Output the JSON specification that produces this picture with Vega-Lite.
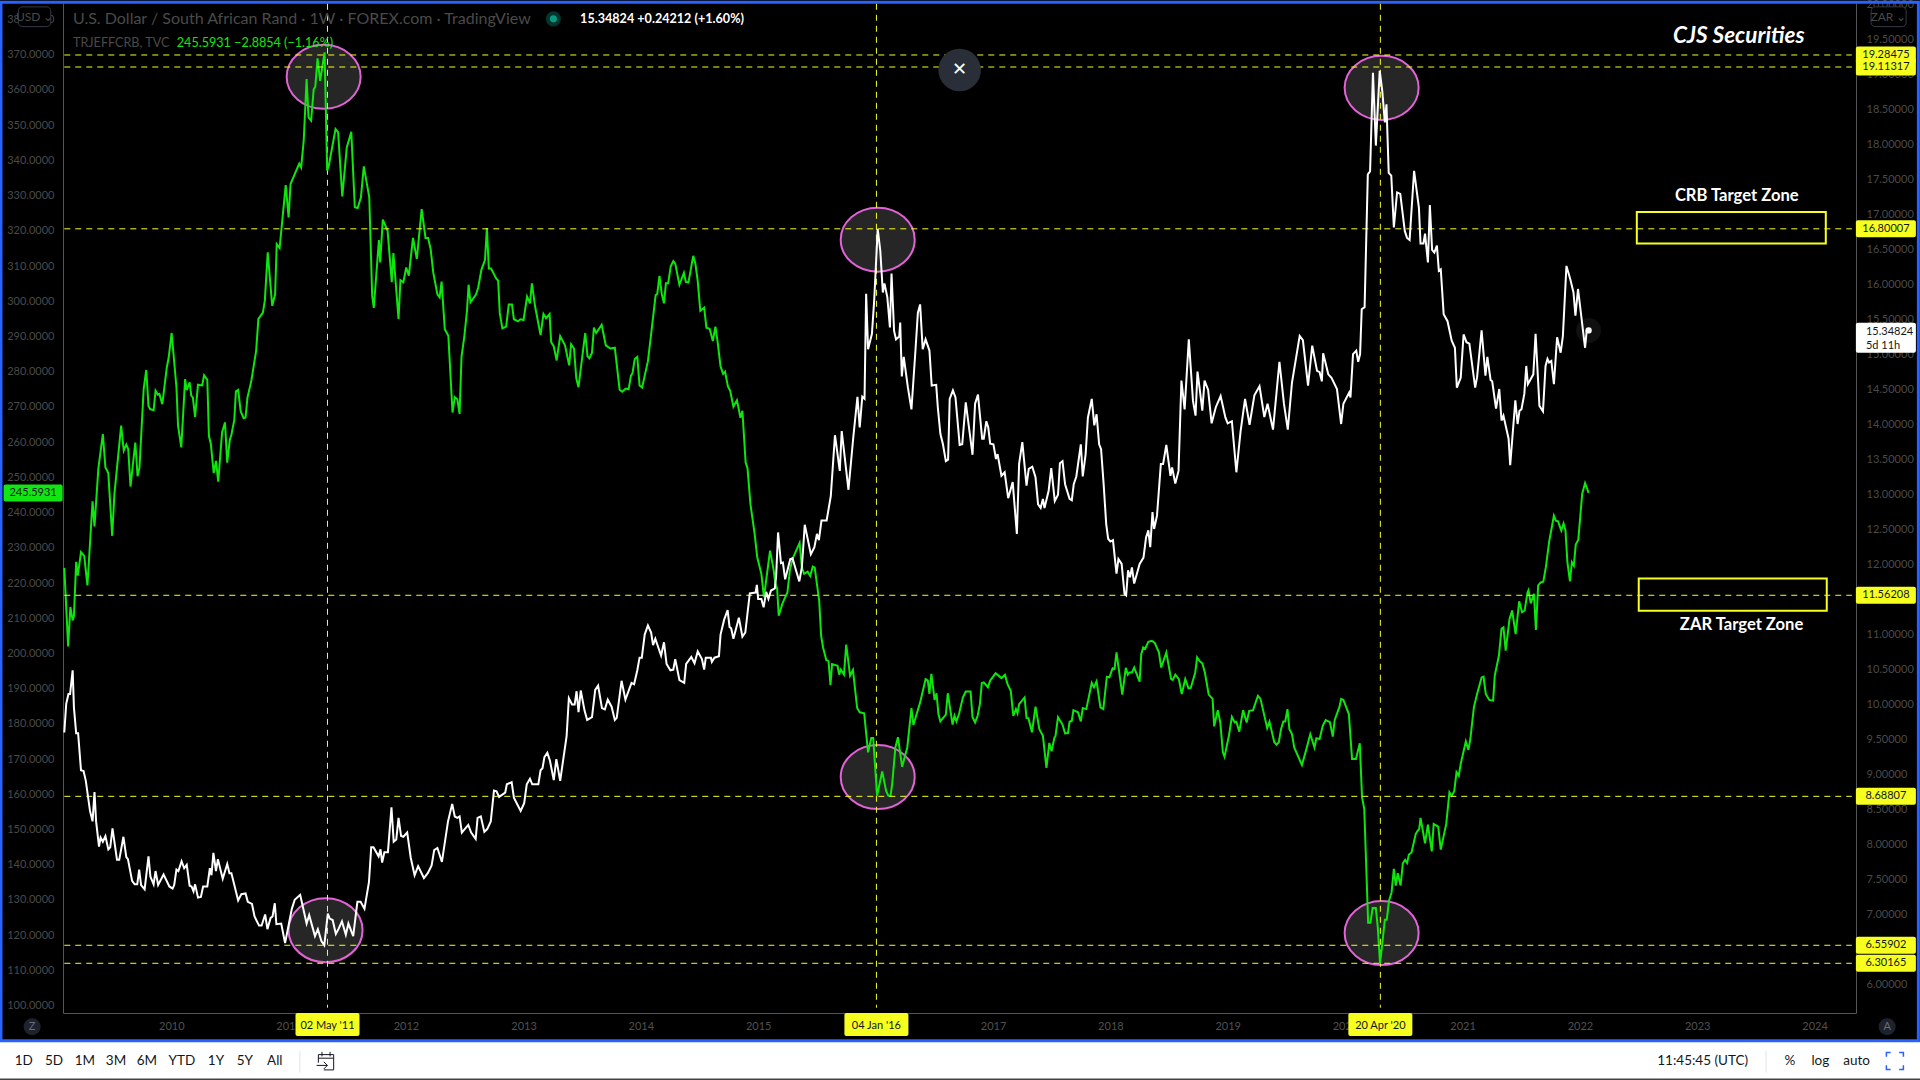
{"$schema":"https://vega.github.io/schema/vega-lite/v6.json","width":1793,"height":1010,"padding":{"left":63,"top":3,"right":64,"bottom":67},"autosize":{"type":"none"},"background":"#000000","config":{"view":{"stroke":null},"text":{"font":"Lato"}},
"datasets":{
"crb":[{"date":"2009-02-02","crb":224.3},{"date":"2009-02-14","crb":202.0},{"date":"2009-02-21","crb":213.2},{"date":"2009-02-28","crb":209.4},{"date":"2009-03-04","crb":210.6},{"date":"2009-03-11","crb":226.0},{"date":"2009-03-16","crb":222.1},{"date":"2009-03-26","crb":228.8},{"date":"2009-04-05","crb":227.7},{"date":"2009-04-15","crb":219.3},{"date":"2009-05-01","crb":243.2},{"date":"2009-05-07","crb":236.1},{"date":"2009-05-19","crb":252.5},{"date":"2009-06-02","crb":262.3},{"date":"2009-06-10","crb":252.8},{"date":"2009-06-19","crb":251.2},{"date":"2009-07-01","crb":233.4},{"date":"2009-07-08","crb":245.3},{"date":"2009-07-29","crb":264.7},{"date":"2009-08-06","crb":257.6},{"date":"2009-08-14","crb":259.3},{"date":"2009-08-20","crb":258.0},{"date":"2009-08-27","crb":247.4},{"date":"2009-09-11","crb":259.9},{"date":"2009-09-18","crb":250.3},{"date":"2009-09-24","crb":252.8},{"date":"2009-10-07","crb":275.1},{"date":"2009-10-15","crb":280.5},{"date":"2009-10-22","crb":270.3},{"date":"2009-10-27","crb":269.4},{"date":"2009-11-07","crb":269.1},{"date":"2009-11-13","crb":274.6},{"date":"2009-11-20","crb":273.5},{"date":"2009-11-25","crb":273.7},{"date":"2009-12-04","crb":270.8},{"date":"2009-12-18","crb":281.2},{"date":"2009-12-24","crb":284.1},{"date":"2010-01-02","crb":291.0},{"date":"2010-01-17","crb":275.6},{"date":"2010-01-22","crb":264.7},{"date":"2010-02-01","crb":258.5},{"date":"2010-02-13","crb":277.9},{"date":"2010-02-18","crb":274.8},{"date":"2010-02-27","crb":277.0},{"date":"2010-03-04","crb":273.2},{"date":"2010-03-09","crb":272.7},{"date":"2010-03-16","crb":267.2},{"date":"2010-03-25","crb":276.3},{"date":"2010-04-07","crb":276.1},{"date":"2010-04-13","crb":279.0},{"date":"2010-04-23","crb":277.7},{"date":"2010-04-28","crb":261.8},{"date":"2010-05-04","crb":259.5},{"date":"2010-05-13","crb":251.2},{"date":"2010-05-20","crb":254.7},{"date":"2010-05-27","crb":248.8},{"date":"2010-06-08","crb":262.8},{"date":"2010-06-17","crb":265.6},{"date":"2010-06-24","crb":254.2},{"date":"2010-07-02","crb":260.6},{"date":"2010-07-07","crb":262.1},{"date":"2010-07-16","crb":266.3},{"date":"2010-07-21","crb":274.4},{"date":"2010-07-28","crb":274.8},{"date":"2010-08-05","crb":268.7},{"date":"2010-08-14","crb":266.8},{"date":"2010-08-20","crb":267.0},{"date":"2010-08-26","crb":272.7},{"date":"2010-09-07","crb":277.4},{"date":"2010-09-22","crb":286.0},{"date":"2010-09-29","crb":295.0},{"date":"2010-10-13","crb":296.8},{"date":"2010-10-19","crb":300.2},{"date":"2010-10-28","crb":313.9},{"date":"2010-11-11","crb":298.7},{"date":"2010-11-20","crb":302.0},{"date":"2010-11-25","crb":316.2},{"date":"2010-12-04","crb":315.1},{"date":"2010-12-23","crb":333.0},{"date":"2011-01-01","crb":323.8},{"date":"2011-01-07","crb":333.3},{"date":"2011-01-20","crb":336.1},{"date":"2011-02-03","crb":339.1},{"date":"2011-02-09","crb":338.0},{"date":"2011-02-17","crb":345.6},{"date":"2011-02-26","crb":363.1},{"date":"2011-03-04","crb":352.2},{"date":"2011-03-12","crb":351.3},{"date":"2011-03-20","crb":360.2},{"date":"2011-03-25","crb":360.9},{"date":"2011-04-01","crb":369.0},{"date":"2011-04-09","crb":362.6},{"date":"2011-04-23","crb":370.7},{"date":"2011-05-01","crb":337.1},{"date":"2011-05-06","crb":338.5},{"date":"2011-05-27","crb":348.9},{"date":"2011-06-04","crb":348.0},{"date":"2011-06-17","crb":329.8},{"date":"2011-07-01","crb":343.7},{"date":"2011-07-15","crb":348.1},{"date":"2011-07-26","crb":326.7},{"date":"2011-08-04","crb":326.5},{"date":"2011-08-14","crb":329.5},{"date":"2011-08-23","crb":338.3},{"date":"2011-09-09","crb":329.5},{"date":"2011-09-18","crb":301.6},{"date":"2011-09-23","crb":298.1},{"date":"2011-10-09","crb":317.4},{"date":"2011-10-13","crb":311.0},{"date":"2011-10-21","crb":323.2},{"date":"2011-11-05","crb":320.0},{"date":"2011-11-18","crb":305.4},{"date":"2011-11-23","crb":313.7},{"date":"2011-12-09","crb":295.0},{"date":"2011-12-15","crb":306.0},{"date":"2011-12-24","crb":305.4},{"date":"2012-01-02","crb":309.6},{"date":"2012-01-10","crb":307.3},{"date":"2012-01-23","crb":318.0},{"date":"2012-02-04","crb":312.0},{"date":"2012-02-19","crb":326.2},{"date":"2012-03-02","crb":318.0},{"date":"2012-03-10","crb":318.0},{"date":"2012-03-18","crb":314.8},{"date":"2012-03-26","crb":308.2},{"date":"2012-04-08","crb":302.0},{"date":"2012-04-15","crb":301.1},{"date":"2012-04-21","crb":305.6},{"date":"2012-05-01","crb":292.1},{"date":"2012-05-12","crb":290.2},{"date":"2012-05-25","crb":268.4},{"date":"2012-06-01","crb":272.8},{"date":"2012-06-09","crb":272.2},{"date":"2012-06-16","crb":268.0},{"date":"2012-06-22","crb":284.2},{"date":"2012-07-01","crb":290.2},{"date":"2012-07-09","crb":297.3},{"date":"2012-07-14","crb":304.7},{"date":"2012-07-20","crb":299.7},{"date":"2012-08-06","crb":301.9},{"date":"2012-08-13","crb":303.9},{"date":"2012-08-23","crb":309.0},{"date":"2012-09-03","crb":311.7},{"date":"2012-09-09","crb":320.8},{"date":"2012-09-15","crb":309.3},{"date":"2012-09-22","crb":309.3},{"date":"2012-10-09","crb":306.3},{"date":"2012-10-14","crb":305.9},{"date":"2012-10-19","crb":296.7},{"date":"2012-10-27","crb":292.3},{"date":"2012-11-08","crb":292.8},{"date":"2012-11-16","crb":299.1},{"date":"2012-11-26","crb":299.1},{"date":"2012-12-02","crb":294.9},{"date":"2012-12-15","crb":294.3},{"date":"2012-12-22","crb":294.9},{"date":"2013-01-01","crb":294.7},{"date":"2013-01-12","crb":301.3},{"date":"2013-01-21","crb":299.4},{"date":"2013-01-27","crb":305.1},{"date":"2013-02-06","crb":298.5},{"date":"2013-02-23","crb":290.4},{"date":"2013-03-04","crb":296.4},{"date":"2013-03-12","crb":295.2},{"date":"2013-03-23","crb":296.4},{"date":"2013-03-28","crb":288.4},{"date":"2013-04-05","crb":287.2},{"date":"2013-04-14","crb":283.2},{"date":"2013-04-25","crb":290.1},{"date":"2013-05-10","crb":287.5},{"date":"2013-05-23","crb":281.8},{"date":"2013-05-29","crb":287.8},{"date":"2013-06-07","crb":286.6},{"date":"2013-06-14","crb":278.2},{"date":"2013-06-21","crb":275.6},{"date":"2013-07-12","crb":291.0},{"date":"2013-07-19","crb":284.4},{"date":"2013-07-25","crb":283.8},{"date":"2013-08-02","crb":285.4},{"date":"2013-08-08","crb":292.5},{"date":"2013-08-15","crb":291.0},{"date":"2013-09-01","crb":293.3},{"date":"2013-09-14","crb":287.5},{"date":"2013-09-28","crb":286.6},{"date":"2013-10-12","crb":286.8},{"date":"2013-10-27","crb":274.9},{"date":"2013-11-04","crb":274.3},{"date":"2013-11-15","crb":275.2},{"date":"2013-11-24","crb":275.0},{"date":"2013-12-01","crb":278.8},{"date":"2013-12-06","crb":279.6},{"date":"2013-12-13","crb":283.6},{"date":"2013-12-21","crb":284.2},{"date":"2013-12-28","crb":276.1},{"date":"2014-01-05","crb":275.5},{"date":"2014-01-23","crb":283.0},{"date":"2014-02-02","crb":290.7},{"date":"2014-02-16","crb":301.7},{"date":"2014-02-21","crb":302.1},{"date":"2014-02-28","crb":307.2},{"date":"2014-03-07","crb":302.1},{"date":"2014-03-14","crb":299.4},{"date":"2014-03-20","crb":305.1},{"date":"2014-03-27","crb":305.1},{"date":"2014-04-04","crb":309.9},{"date":"2014-04-12","crb":311.4},{"date":"2014-04-18","crb":310.7},{"date":"2014-05-01","crb":304.7},{"date":"2014-05-15","crb":308.1},{"date":"2014-05-21","crb":305.5},{"date":"2014-05-29","crb":305.3},{"date":"2014-06-13","crb":312.9},{"date":"2014-06-20","crb":310.5},{"date":"2014-06-27","crb":305.7},{"date":"2014-07-05","crb":297.3},{"date":"2014-07-17","crb":298.2},{"date":"2014-07-24","crb":292.5},{"date":"2014-08-03","crb":292.2},{"date":"2014-08-13","crb":288.7},{"date":"2014-08-21","crb":292.8},{"date":"2014-08-28","crb":288.4},{"date":"2014-09-06","crb":281.5},{"date":"2014-09-14","crb":279.4},{"date":"2014-09-20","crb":280.0},{"date":"2014-09-29","crb":275.8},{"date":"2014-10-06","crb":274.6},{"date":"2014-10-16","crb":270.1},{"date":"2014-10-27","crb":271.9},{"date":"2014-11-07","crb":266.9},{"date":"2014-11-13","crb":268.9},{"date":"2014-11-23","crb":254.3},{"date":"2014-11-29","crb":252.5},{"date":"2014-12-08","crb":242.4},{"date":"2014-12-21","crb":234.0},{"date":"2014-12-29","crb":227.4},{"date":"2015-01-11","crb":222.6},{"date":"2015-01-19","crb":216.0},{"date":"2015-01-26","crb":220.8},{"date":"2015-02-07","crb":229.2},{"date":"2015-02-18","crb":223.8},{"date":"2015-02-24","crb":219.6},{"date":"2015-03-01","crb":218.5},{"date":"2015-03-06","crb":210.7},{"date":"2015-03-18","crb":214.3},{"date":"2015-04-02","crb":217.3},{"date":"2015-04-10","crb":223.8},{"date":"2015-04-19","crb":227.1},{"date":"2015-05-10","crb":231.4},{"date":"2015-05-17","crb":224.4},{"date":"2015-05-24","crb":222.6},{"date":"2015-06-04","crb":223.2},{"date":"2015-06-12","crb":222.0},{"date":"2015-06-20","crb":224.7},{"date":"2015-06-26","crb":224.4},{"date":"2015-07-10","crb":214.9},{"date":"2015-07-16","crb":205.0},{"date":"2015-07-22","crb":201.7},{"date":"2015-08-01","crb":198.1},{"date":"2015-08-08","crb":197.8},{"date":"2015-08-14","crb":191.0},{"date":"2015-08-19","crb":197.0},{"date":"2015-09-05","crb":196.5},{"date":"2015-09-10","crb":194.0},{"date":"2015-09-15","crb":195.4},{"date":"2015-09-25","crb":194.0},{"date":"2015-10-02","crb":202.5},{"date":"2015-10-14","crb":193.7},{"date":"2015-10-23","crb":195.3},{"date":"2015-11-05","crb":184.5},{"date":"2015-11-13","crb":183.3},{"date":"2015-11-27","crb":183.0},{"date":"2015-12-09","crb":171.9},{"date":"2015-12-19","crb":176.0},{"date":"2015-12-25","crb":176.0},{"date":"2016-01-06","crb":159.6},{"date":"2016-01-22","crb":166.5},{"date":"2016-02-03","crb":161.0},{"date":"2016-02-10","crb":159.6},{"date":"2016-02-17","crb":159.6},{"date":"2016-02-22","crb":162.9},{"date":"2016-03-03","crb":173.3},{"date":"2016-03-11","crb":176.2},{"date":"2016-03-24","crb":167.8},{"date":"2016-04-09","crb":173.3},{"date":"2016-04-22","crb":184.5},{"date":"2016-04-28","crb":179.7},{"date":"2016-05-19","crb":186.1},{"date":"2016-06-05","crb":192.7},{"date":"2016-06-12","crb":192.3},{"date":"2016-06-17","crb":188.5},{"date":"2016-06-23","crb":194.2},{"date":"2016-07-03","crb":186.8},{"date":"2016-07-09","crb":188.7},{"date":"2016-07-15","crb":182.8},{"date":"2016-07-21","crb":180.7},{"date":"2016-08-07","crb":182.6},{"date":"2016-08-13","crb":188.7},{"date":"2016-08-28","crb":179.8},{"date":"2016-09-03","crb":182.3},{"date":"2016-09-09","crb":180.7},{"date":"2016-09-17","crb":182.8},{"date":"2016-09-29","crb":187.5},{"date":"2016-10-08","crb":189.2},{"date":"2016-10-23","crb":189.2},{"date":"2016-10-29","crb":181.9},{"date":"2016-11-06","crb":180.4},{"date":"2016-11-14","crb":182.3},{"date":"2016-11-21","crb":185.6},{"date":"2016-11-27","crb":191.6},{"date":"2016-12-03","crb":191.8},{"date":"2016-12-16","crb":190.4},{"date":"2016-12-23","crb":192.3},{"date":"2017-01-09","crb":194.4},{"date":"2017-01-27","crb":193.0},{"date":"2017-02-07","crb":193.9},{"date":"2017-02-15","crb":191.3},{"date":"2017-02-25","crb":189.4},{"date":"2017-03-05","crb":182.3},{"date":"2017-03-13","crb":184.2},{"date":"2017-03-18","crb":183.0},{"date":"2017-03-23","crb":185.6},{"date":"2017-04-09","crb":187.5},{"date":"2017-04-15","crb":181.7},{"date":"2017-04-21","crb":181.6},{"date":"2017-05-02","crb":177.6},{"date":"2017-05-13","crb":184.9},{"date":"2017-05-25","crb":178.5},{"date":"2017-06-05","crb":176.6},{"date":"2017-06-16","crb":167.5},{"date":"2017-06-25","crb":174.6},{"date":"2017-07-02","crb":172.2},{"date":"2017-07-11","crb":176.2},{"date":"2017-07-14","crb":176.4},{"date":"2017-07-22","crb":181.9},{"date":"2017-08-05","crb":179.8},{"date":"2017-08-13","crb":177.3},{"date":"2017-08-22","crb":177.4},{"date":"2017-08-27","crb":180.6},{"date":"2017-09-03","crb":180.9},{"date":"2017-09-08","crb":183.9},{"date":"2017-09-22","crb":183.3},{"date":"2017-10-01","crb":180.7},{"date":"2017-10-07","crb":184.5},{"date":"2017-10-18","crb":184.2},{"date":"2017-11-04","crb":191.6},{"date":"2017-11-11","crb":190.4},{"date":"2017-11-19","crb":192.1},{"date":"2017-12-01","crb":184.7},{"date":"2017-12-10","crb":184.2},{"date":"2017-12-21","crb":193.4},{"date":"2017-12-29","crb":193.2},{"date":"2018-01-08","crb":195.8},{"date":"2018-01-14","crb":195.6},{"date":"2018-01-20","crb":200.3},{"date":"2018-02-07","crb":188.3},{"date":"2018-02-18","crb":195.9},{"date":"2018-02-24","crb":194.0},{"date":"2018-03-01","crb":194.6},{"date":"2018-03-09","crb":194.6},{"date":"2018-03-16","crb":196.0},{"date":"2018-04-02","crb":192.0},{"date":"2018-04-07","crb":199.8},{"date":"2018-04-13","crb":201.7},{"date":"2018-04-19","crb":201.3},{"date":"2018-04-29","crb":203.3},{"date":"2018-05-10","crb":203.6},{"date":"2018-05-19","crb":203.0},{"date":"2018-06-01","crb":200.3},{"date":"2018-06-08","crb":196.0},{"date":"2018-06-24","crb":200.3},{"date":"2018-07-09","crb":192.7},{"date":"2018-07-14","crb":192.5},{"date":"2018-07-22","crb":194.0},{"date":"2018-08-02","crb":192.7},{"date":"2018-08-11","crb":188.5},{"date":"2018-08-22","crb":192.7},{"date":"2018-09-01","crb":190.1},{"date":"2018-09-08","crb":190.2},{"date":"2018-09-22","crb":194.6},{"date":"2018-09-28","crb":198.9},{"date":"2018-10-06","crb":197.8},{"date":"2018-10-14","crb":197.2},{"date":"2018-10-22","crb":194.6},{"date":"2018-11-03","crb":188.3},{"date":"2018-11-15","crb":187.1},{"date":"2018-11-20","crb":179.3},{"date":"2018-12-01","crb":183.9},{"date":"2018-12-09","crb":180.4},{"date":"2018-12-17","crb":171.9},{"date":"2018-12-22","crb":170.7},{"date":"2019-01-05","crb":176.7},{"date":"2019-01-14","crb":182.0},{"date":"2019-01-23","crb":180.4},{"date":"2019-01-28","crb":180.6},{"date":"2019-02-06","crb":177.8},{"date":"2019-02-18","crb":183.9},{"date":"2019-03-01","crb":180.4},{"date":"2019-03-09","crb":183.7},{"date":"2019-03-21","crb":183.9},{"date":"2019-04-05","crb":188.0},{"date":"2019-04-13","crb":187.1},{"date":"2019-05-04","crb":178.8},{"date":"2019-05-11","crb":180.6},{"date":"2019-05-26","crb":174.8},{"date":"2019-06-02","crb":174.1},{"date":"2019-06-09","crb":174.8},{"date":"2019-06-16","crb":178.5},{"date":"2019-06-23","crb":180.7},{"date":"2019-06-29","crb":180.7},{"date":"2019-07-06","crb":184.2},{"date":"2019-07-12","crb":178.5},{"date":"2019-07-20","crb":177.1},{"date":"2019-07-27","crb":173.3},{"date":"2019-08-20","crb":168.3},{"date":"2019-09-03","crb":172.9},{"date":"2019-09-15","crb":177.1},{"date":"2019-09-28","crb":173.3},{"date":"2019-10-04","crb":175.9},{"date":"2019-10-14","crb":175.7},{"date":"2019-10-24","crb":179.5},{"date":"2019-11-02","crb":181.1},{"date":"2019-11-15","crb":180.5},{"date":"2019-11-24","crb":176.4},{"date":"2019-11-30","crb":181.1},{"date":"2019-12-15","crb":184.9},{"date":"2019-12-20","crb":187.1},{"date":"2019-12-27","crb":186.8},{"date":"2020-01-13","crb":182.8},{"date":"2020-01-23","crb":170.0},{"date":"2020-02-04","crb":170.0},{"date":"2020-02-16","crb":174.5},{"date":"2020-02-23","crb":159.2},{"date":"2020-03-01","crb":155.8},{"date":"2020-03-13","crb":123.5},{"date":"2020-03-20","crb":123.5},{"date":"2020-03-27","crb":127.7},{"date":"2020-04-06","crb":127.7},{"date":"2020-04-12","crb":122.2},{"date":"2020-04-19","crb":112.0},{"date":"2020-04-26","crb":117.5},{"date":"2020-05-04","crb":124.4},{"date":"2020-05-10","crb":124.4},{"date":"2020-05-17","crb":129.8},{"date":"2020-05-25","crb":132.2},{"date":"2020-06-01","crb":138.8},{"date":"2020-06-07","crb":134.1},{"date":"2020-06-13","crb":137.6},{"date":"2020-06-22","crb":134.1},{"date":"2020-06-29","crb":140.4},{"date":"2020-07-06","crb":141.4},{"date":"2020-07-12","crb":140.5},{"date":"2020-07-18","crb":142.9},{"date":"2020-07-26","crb":143.5},{"date":"2020-08-08","crb":148.7},{"date":"2020-08-13","crb":149.5},{"date":"2020-08-19","crb":150.2},{"date":"2020-08-23","crb":153.3},{"date":"2020-09-06","crb":146.1},{"date":"2020-09-15","crb":151.4},{"date":"2020-09-27","crb":143.8},{"date":"2020-10-03","crb":151.6},{"date":"2020-10-17","crb":150.8},{"date":"2020-10-25","crb":144.3},{"date":"2020-11-11","crb":151.6},{"date":"2020-11-21","crb":160.6},{"date":"2020-11-28","crb":159.6},{"date":"2020-12-06","crb":160.9},{"date":"2020-12-13","crb":166.3},{"date":"2020-12-20","crb":165.3},{"date":"2020-12-26","crb":168.6},{"date":"2021-01-11","crb":175.0},{"date":"2021-01-19","crb":172.6},{"date":"2021-01-25","crb":175.7},{"date":"2021-02-05","crb":184.7},{"date":"2021-02-15","crb":188.5},{"date":"2021-03-01","crb":193.2},{"date":"2021-03-07","crb":193.4},{"date":"2021-03-14","crb":188.5},{"date":"2021-03-25","crb":186.8},{"date":"2021-04-06","crb":186.6},{"date":"2021-04-11","crb":193.7},{"date":"2021-04-24","crb":199.4},{"date":"2021-05-02","crb":207.0},{"date":"2021-05-08","crb":207.4},{"date":"2021-05-15","crb":200.8},{"date":"2021-05-27","crb":209.8},{"date":"2021-06-04","crb":212.2},{"date":"2021-06-15","crb":205.5},{"date":"2021-06-26","crb":214.8},{"date":"2021-07-05","crb":211.7},{"date":"2021-07-13","crb":212.2},{"date":"2021-07-22","crb":217.4},{"date":"2021-07-25","crb":218.0},{"date":"2021-08-01","crb":214.2},{"date":"2021-08-11","crb":216.9},{"date":"2021-08-17","crb":206.7},{"date":"2021-08-24","crb":219.3},{"date":"2021-09-01","crb":220.2},{"date":"2021-09-09","crb":220.4},{"date":"2021-09-17","crb":224.5},{"date":"2021-09-27","crb":231.6},{"date":"2021-10-12","crb":239.1},{"date":"2021-10-18","crb":237.7},{"date":"2021-10-25","crb":237.5},{"date":"2021-11-04","crb":234.9},{"date":"2021-11-11","crb":236.9},{"date":"2021-11-17","crb":234.9},{"date":"2021-11-23","crb":225.9},{"date":"2021-12-01","crb":220.5},{"date":"2021-12-07","crb":225.9},{"date":"2021-12-13","crb":224.9},{"date":"2021-12-19","crb":230.9},{"date":"2021-12-27","crb":232.3},{"date":"2022-01-08","crb":245.3},{"date":"2022-01-17","crb":248.4},{"date":"2022-01-28","crb":245.5931}],
"zar":[{"date":"2009-02-02","zar":9.6},{"date":"2009-02-08","zar":10.01},{"date":"2009-02-15","zar":10.15},{"date":"2009-02-20","zar":10.15},{"date":"2009-02-28","zar":10.49},{"date":"2009-03-04","zar":9.96},{"date":"2009-03-11","zar":9.59},{"date":"2009-03-17","zar":9.59},{"date":"2009-03-26","zar":9.06},{"date":"2009-04-03","zar":9.05},{"date":"2009-04-10","zar":8.91},{"date":"2009-04-23","zar":8.48},{"date":"2009-05-01","zar":8.33},{"date":"2009-05-07","zar":8.75},{"date":"2009-05-12","zar":8.33},{"date":"2009-05-21","zar":7.97},{"date":"2009-05-26","zar":8.1},{"date":"2009-06-02","zar":8.04},{"date":"2009-06-10","zar":8.12},{"date":"2009-06-19","zar":7.93},{"date":"2009-06-25","zar":7.96},{"date":"2009-07-02","zar":8.23},{"date":"2009-07-16","zar":7.78},{"date":"2009-07-23","zar":7.78},{"date":"2009-08-05","zar":8.11},{"date":"2009-08-14","zar":7.82},{"date":"2009-08-19","zar":7.79},{"date":"2009-09-01","zar":7.48},{"date":"2009-09-09","zar":7.43},{"date":"2009-09-17","zar":7.43},{"date":"2009-09-23","zar":7.64},{"date":"2009-09-29","zar":7.42},{"date":"2009-10-10","zar":7.36},{"date":"2009-10-22","zar":7.83},{"date":"2009-10-28","zar":7.54},{"date":"2009-11-07","zar":7.43},{"date":"2009-11-13","zar":7.62},{"date":"2009-11-21","zar":7.42},{"date":"2009-12-08","zar":7.57},{"date":"2009-12-26","zar":7.4},{"date":"2010-01-05","zar":7.37},{"date":"2010-01-10","zar":7.42},{"date":"2010-01-17","zar":7.64},{"date":"2010-01-23","zar":7.62},{"date":"2010-02-02","zar":7.76},{"date":"2010-02-10","zar":7.66},{"date":"2010-02-18","zar":7.71},{"date":"2010-02-27","zar":7.41},{"date":"2010-03-05","zar":7.4},{"date":"2010-03-11","zar":7.33},{"date":"2010-03-16","zar":7.43},{"date":"2010-03-25","zar":7.24},{"date":"2010-04-03","zar":7.25},{"date":"2010-04-10","zar":7.4},{"date":"2010-04-23","zar":7.4},{"date":"2010-05-01","zar":7.66},{"date":"2010-05-06","zar":7.56},{"date":"2010-05-12","zar":7.88},{"date":"2010-05-20","zar":7.62},{"date":"2010-05-26","zar":7.79},{"date":"2010-06-10","zar":7.51},{"date":"2010-06-24","zar":7.72},{"date":"2010-07-01","zar":7.59},{"date":"2010-07-07","zar":7.59},{"date":"2010-07-28","zar":7.2},{"date":"2010-08-07","zar":7.29},{"date":"2010-08-20","zar":7.3},{"date":"2010-08-27","zar":7.18},{"date":"2010-09-09","zar":7.15},{"date":"2010-09-17","zar":6.97},{"date":"2010-10-01","zar":6.84},{"date":"2010-10-09","zar":6.84},{"date":"2010-10-20","zar":7.0},{"date":"2010-10-27","zar":6.79},{"date":"2010-11-06","zar":6.95},{"date":"2010-11-12","zar":6.97},{"date":"2010-11-19","zar":7.16},{"date":"2010-11-24","zar":6.86},{"date":"2010-12-09","zar":6.87},{"date":"2010-12-21","zar":6.59},{"date":"2011-01-11","zar":7.08},{"date":"2011-01-20","zar":7.21},{"date":"2011-02-06","zar":7.28},{"date":"2011-02-26","zar":6.87},{"date":"2011-03-06","zar":6.99},{"date":"2011-03-24","zar":6.69},{"date":"2011-04-02","zar":6.79},{"date":"2011-04-13","zar":6.62},{"date":"2011-04-22","zar":6.56},{"date":"2011-05-03","zar":7.01},{"date":"2011-05-09","zar":6.94},{"date":"2011-05-18","zar":6.92},{"date":"2011-05-28","zar":6.72},{"date":"2011-06-05","zar":6.79},{"date":"2011-06-16","zar":6.9},{"date":"2011-06-28","zar":6.71},{"date":"2011-07-06","zar":6.87},{"date":"2011-07-21","zar":6.69},{"date":"2011-08-03","zar":7.18},{"date":"2011-08-13","zar":7.18},{"date":"2011-08-25","zar":7.08},{"date":"2011-09-08","zar":7.46},{"date":"2011-09-15","zar":7.96},{"date":"2011-09-22","zar":7.96},{"date":"2011-10-08","zar":7.83},{"date":"2011-10-14","zar":7.93},{"date":"2011-10-19","zar":7.74},{"date":"2011-10-26","zar":7.89},{"date":"2011-11-06","zar":7.89},{"date":"2011-11-17","zar":8.53},{"date":"2011-11-24","zar":8.04},{"date":"2011-12-02","zar":8.07},{"date":"2011-12-09","zar":8.38},{"date":"2011-12-17","zar":8.12},{"date":"2011-12-24","zar":8.11},{"date":"2012-01-05","zar":8.17},{"date":"2012-01-16","zar":7.81},{"date":"2012-01-28","zar":7.56},{"date":"2012-02-08","zar":7.69},{"date":"2012-02-26","zar":7.52},{"date":"2012-03-09","zar":7.59},{"date":"2012-03-21","zar":7.7},{"date":"2012-03-29","zar":7.92},{"date":"2012-04-08","zar":7.95},{"date":"2012-04-22","zar":7.75},{"date":"2012-05-11","zar":8.33},{"date":"2012-05-24","zar":8.58},{"date":"2012-06-01","zar":8.4},{"date":"2012-06-09","zar":8.38},{"date":"2012-06-16","zar":8.4},{"date":"2012-06-23","zar":8.17},{"date":"2012-07-13","zar":8.28},{"date":"2012-07-22","zar":8.17},{"date":"2012-08-05","zar":8.08},{"date":"2012-08-11","zar":8.38},{"date":"2012-08-21","zar":8.4},{"date":"2012-09-01","zar":8.18},{"date":"2012-09-10","zar":8.22},{"date":"2012-09-21","zar":8.33},{"date":"2012-10-01","zar":8.77},{"date":"2012-10-09","zar":8.76},{"date":"2012-10-17","zar":8.68},{"date":"2012-11-05","zar":8.74},{"date":"2012-11-10","zar":8.86},{"date":"2012-11-25","zar":8.89},{"date":"2012-12-02","zar":8.67},{"date":"2012-12-23","zar":8.48},{"date":"2013-01-03","zar":8.59},{"date":"2013-01-11","zar":8.86},{"date":"2013-01-21","zar":8.94},{"date":"2013-01-28","zar":8.86},{"date":"2013-02-16","zar":8.86},{"date":"2013-02-23","zar":9.06},{"date":"2013-03-01","zar":9.09},{"date":"2013-03-07","zar":9.25},{"date":"2013-03-16","zar":9.31},{"date":"2013-03-24","zar":9.2},{"date":"2013-04-05","zar":8.92},{"date":"2013-04-13","zar":9.22},{"date":"2013-04-25","zar":8.91},{"date":"2013-05-15","zar":9.55},{"date":"2013-05-22","zar":10.09},{"date":"2013-06-01","zar":10.0},{"date":"2013-06-09","zar":10.0},{"date":"2013-06-15","zar":10.19},{"date":"2013-06-21","zar":9.89},{"date":"2013-06-28","zar":10.2},{"date":"2013-07-10","zar":9.91},{"date":"2013-07-18","zar":9.78},{"date":"2013-08-02","zar":9.82},{"date":"2013-08-12","zar":10.21},{"date":"2013-08-21","zar":10.27},{"date":"2013-09-02","zar":9.95},{"date":"2013-09-11","zar":9.93},{"date":"2013-09-20","zar":10.07},{"date":"2013-10-02","zar":9.97},{"date":"2013-10-12","zar":9.78},{"date":"2013-10-18","zar":9.81},{"date":"2013-11-02","zar":10.34},{"date":"2013-11-14","zar":10.07},{"date":"2013-12-03","zar":10.31},{"date":"2013-12-11","zar":10.29},{"date":"2013-12-21","zar":10.49},{"date":"2013-12-28","zar":10.67},{"date":"2014-01-04","zar":10.67},{"date":"2014-01-13","zar":11.0},{"date":"2014-01-23","zar":11.13},{"date":"2014-02-02","zar":11.03},{"date":"2014-02-08","zar":10.85},{"date":"2014-02-15","zar":10.94},{"date":"2014-03-05","zar":10.7},{"date":"2014-03-14","zar":10.89},{"date":"2014-03-22","zar":10.58},{"date":"2014-04-03","zar":10.49},{"date":"2014-04-12","zar":10.5},{"date":"2014-04-18","zar":10.65},{"date":"2014-05-01","zar":10.35},{"date":"2014-05-16","zar":10.31},{"date":"2014-05-22","zar":10.58},{"date":"2014-06-07","zar":10.68},{"date":"2014-06-17","zar":10.59},{"date":"2014-06-27","zar":10.76},{"date":"2014-07-10","zar":10.65},{"date":"2014-07-17","zar":10.5},{"date":"2014-07-22","zar":10.67},{"date":"2014-08-07","zar":10.67},{"date":"2014-08-10","zar":10.61},{"date":"2014-08-18","zar":10.67},{"date":"2014-09-01","zar":10.69},{"date":"2014-09-06","zar":11.0},{"date":"2014-09-17","zar":11.21},{"date":"2014-09-28","zar":11.35},{"date":"2014-10-04","zar":11.11},{"date":"2014-10-09","zar":11.09},{"date":"2014-10-16","zar":10.94},{"date":"2014-11-02","zar":11.24},{"date":"2014-11-13","zar":10.97},{"date":"2014-11-22","zar":11.03},{"date":"2014-12-06","zar":11.59},{"date":"2014-12-24","zar":11.6},{"date":"2014-12-28","zar":11.71},{"date":"2015-01-01","zar":11.51},{"date":"2015-01-11","zar":11.51},{"date":"2015-01-18","zar":11.39},{"date":"2015-01-26","zar":11.61},{"date":"2015-02-02","zar":11.51},{"date":"2015-02-10","zar":11.63},{"date":"2015-02-22","zar":11.66},{"date":"2015-02-26","zar":11.84},{"date":"2015-03-04","zar":12.46},{"date":"2015-03-13","zar":12.02},{"date":"2015-03-19","zar":12.03},{"date":"2015-03-26","zar":11.79},{"date":"2015-04-11","zar":12.08},{"date":"2015-04-18","zar":12.09},{"date":"2015-04-28","zar":11.93},{"date":"2015-05-09","zar":11.76},{"date":"2015-05-17","zar":11.96},{"date":"2015-05-26","zar":12.57},{"date":"2015-06-14","zar":12.15},{"date":"2015-06-25","zar":12.25},{"date":"2015-07-03","zar":12.44},{"date":"2015-07-09","zar":12.35},{"date":"2015-07-17","zar":12.63},{"date":"2015-08-02","zar":12.63},{"date":"2015-08-15","zar":12.98},{"date":"2015-08-28","zar":13.85},{"date":"2015-09-12","zar":13.34},{"date":"2015-09-18","zar":13.91},{"date":"2015-10-09","zar":13.07},{"date":"2015-10-24","zar":13.82},{"date":"2015-11-06","zar":14.4},{"date":"2015-11-13","zar":13.96},{"date":"2015-11-21","zar":14.4},{"date":"2015-11-28","zar":14.37},{"date":"2015-12-03","zar":15.87},{"date":"2015-12-09","zar":15.08},{"date":"2015-12-21","zar":15.3},{"date":"2015-12-28","zar":15.77},{"date":"2016-01-08","zar":16.8},{"date":"2016-01-16","zar":16.49},{"date":"2016-01-24","zar":15.89},{"date":"2016-01-29","zar":16.02},{"date":"2016-02-07","zar":15.82},{"date":"2016-02-15","zar":15.39},{"date":"2016-02-20","zar":16.16},{"date":"2016-02-28","zar":15.34},{"date":"2016-03-05","zar":15.22},{"date":"2016-03-15","zar":15.26},{"date":"2016-03-18","zar":15.46},{"date":"2016-03-23","zar":14.69},{"date":"2016-03-29","zar":14.97},{"date":"2016-04-11","zar":14.53},{"date":"2016-04-22","zar":14.22},{"date":"2016-05-05","zar":15.1},{"date":"2016-05-12","zar":15.6},{"date":"2016-05-19","zar":15.72},{"date":"2016-05-27","zar":15.08},{"date":"2016-06-05","zar":15.22},{"date":"2016-06-17","zar":15.06},{"date":"2016-06-24","zar":14.56},{"date":"2016-07-08","zar":14.57},{"date":"2016-07-13","zar":14.25},{"date":"2016-07-21","zar":13.87},{"date":"2016-07-29","zar":13.72},{"date":"2016-08-07","zar":13.48},{"date":"2016-08-14","zar":13.5},{"date":"2016-08-19","zar":14.37},{"date":"2016-08-29","zar":14.49},{"date":"2016-09-06","zar":14.39},{"date":"2016-09-19","zar":13.71},{"date":"2016-09-27","zar":13.72},{"date":"2016-10-08","zar":14.32},{"date":"2016-10-20","zar":13.89},{"date":"2016-10-29","zar":13.57},{"date":"2016-11-06","zar":14.3},{"date":"2016-11-15","zar":14.43},{"date":"2016-11-28","zar":13.8},{"date":"2016-12-03","zar":13.8},{"date":"2016-12-11","zar":14.05},{"date":"2016-12-17","zar":13.96},{"date":"2016-12-23","zar":13.73},{"date":"2017-01-02","zar":13.72},{"date":"2017-01-10","zar":13.51},{"date":"2017-01-15","zar":13.58},{"date":"2017-01-27","zar":13.27},{"date":"2017-02-06","zar":13.32},{"date":"2017-02-17","zar":12.95},{"date":"2017-03-03","zar":13.18},{"date":"2017-03-16","zar":12.44},{"date":"2017-03-23","zar":13.44},{"date":"2017-04-02","zar":13.75},{"date":"2017-04-15","zar":13.13},{"date":"2017-04-22","zar":13.37},{"date":"2017-05-03","zar":13.4},{"date":"2017-05-13","zar":13.25},{"date":"2017-05-21","zar":12.86},{"date":"2017-05-29","zar":12.81},{"date":"2017-06-05","zar":12.94},{"date":"2017-06-10","zar":12.81},{"date":"2017-06-23","zar":13.06},{"date":"2017-07-01","zar":13.38},{"date":"2017-07-12","zar":12.91},{"date":"2017-07-22","zar":13.0},{"date":"2017-07-28","zar":13.45},{"date":"2017-08-05","zar":13.48},{"date":"2017-08-13","zar":13.15},{"date":"2017-08-27","zar":12.94},{"date":"2017-09-03","zar":12.92},{"date":"2017-09-09","zar":13.15},{"date":"2017-09-17","zar":13.26},{"date":"2017-10-01","zar":13.72},{"date":"2017-10-07","zar":13.26},{"date":"2017-10-16","zar":13.58},{"date":"2017-10-23","zar":14.1},{"date":"2017-11-04","zar":14.37},{"date":"2017-11-12","zar":13.99},{"date":"2017-11-19","zar":14.15},{"date":"2017-11-27","zar":13.72},{"date":"2017-12-03","zar":13.65},{"date":"2017-12-11","zar":13.15},{"date":"2017-12-19","zar":12.58},{"date":"2017-12-25","zar":12.37},{"date":"2018-01-01","zar":12.33},{"date":"2018-01-09","zar":12.35},{"date":"2018-01-20","zar":11.87},{"date":"2018-01-26","zar":12.08},{"date":"2018-02-05","zar":12.01},{"date":"2018-02-14","zar":11.58},{"date":"2018-02-19","zar":11.56},{"date":"2018-02-25","zar":11.92},{"date":"2018-03-03","zar":11.82},{"date":"2018-03-09","zar":11.96},{"date":"2018-03-16","zar":11.73},{"date":"2018-04-02","zar":12.01},{"date":"2018-04-14","zar":12.1},{"date":"2018-04-22","zar":12.39},{"date":"2018-04-29","zar":12.49},{"date":"2018-05-05","zar":12.25},{"date":"2018-05-12","zar":12.75},{"date":"2018-05-17","zar":12.51},{"date":"2018-05-26","zar":12.7},{"date":"2018-06-07","zar":13.44},{"date":"2018-06-14","zar":13.44},{"date":"2018-06-24","zar":13.71},{"date":"2018-07-07","zar":13.27},{"date":"2018-07-12","zar":13.39},{"date":"2018-07-22","zar":13.16},{"date":"2018-08-01","zar":13.34},{"date":"2018-08-10","zar":14.63},{"date":"2018-08-20","zar":14.22},{"date":"2018-09-02","zar":15.22},{"date":"2018-09-15","zar":14.34},{"date":"2018-09-23","zar":14.13},{"date":"2018-09-29","zar":14.76},{"date":"2018-10-06","zar":14.51},{"date":"2018-10-14","zar":14.2},{"date":"2018-10-21","zar":14.63},{"date":"2018-11-01","zar":14.5},{"date":"2018-11-12","zar":14.02},{"date":"2018-11-25","zar":14.25},{"date":"2018-12-10","zar":14.41},{"date":"2018-12-25","zar":14.1},{"date":"2019-01-01","zar":14.02},{"date":"2019-01-14","zar":14.05},{"date":"2019-01-28","zar":13.32},{"date":"2019-02-10","zar":13.9},{"date":"2019-02-24","zar":14.37},{"date":"2019-03-10","zar":14.0},{"date":"2019-03-25","zar":14.42},{"date":"2019-04-10","zar":14.55},{"date":"2019-04-25","zar":14.11},{"date":"2019-05-05","zar":14.3},{"date":"2019-05-22","zar":13.93},{"date":"2019-06-11","zar":14.9},{"date":"2019-06-25","zar":14.3},{"date":"2019-07-07","zar":13.93},{"date":"2019-07-20","zar":14.6},{"date":"2019-08-13","zar":15.27},{"date":"2019-08-23","zar":15.21},{"date":"2019-09-08","zar":14.56},{"date":"2019-09-21","zar":15.13},{"date":"2019-10-06","zar":14.77},{"date":"2019-10-14","zar":14.75},{"date":"2019-10-21","zar":14.62},{"date":"2019-10-25","zar":15.02},{"date":"2019-11-10","zar":14.72},{"date":"2019-11-20","zar":14.67},{"date":"2019-12-07","zar":14.51},{"date":"2019-12-20","zar":14.01},{"date":"2019-12-27","zar":14.3},{"date":"2020-01-14","zar":14.46},{"date":"2020-01-18","zar":14.39},{"date":"2020-01-26","zar":15.01},{"date":"2020-02-05","zar":15.06},{"date":"2020-02-11","zar":14.9},{"date":"2020-02-17","zar":15.01},{"date":"2020-02-22","zar":15.65},{"date":"2020-03-02","zar":15.68},{"date":"2020-03-12","zar":17.58},{"date":"2020-03-19","zar":17.62},{"date":"2020-03-28","zar":19.03},{"date":"2020-04-06","zar":17.99},{"date":"2020-04-18","zar":19.06},{"date":"2020-04-26","zar":18.77},{"date":"2020-05-04","zar":18.32},{"date":"2020-05-09","zar":18.58},{"date":"2020-05-16","zar":17.6},{"date":"2020-05-24","zar":17.56},{"date":"2020-06-01","zar":16.82},{"date":"2020-06-11","zar":17.32},{"date":"2020-06-21","zar":17.3},{"date":"2020-07-05","zar":16.77},{"date":"2020-07-12","zar":16.67},{"date":"2020-07-20","zar":16.64},{"date":"2020-08-03","zar":17.63},{"date":"2020-08-18","zar":17.1},{"date":"2020-08-23","zar":16.59},{"date":"2020-09-01","zar":16.59},{"date":"2020-09-06","zar":16.73},{"date":"2020-09-15","zar":16.32},{"date":"2020-09-21","zar":17.14},{"date":"2020-09-28","zar":16.5},{"date":"2020-10-05","zar":16.46},{"date":"2020-10-13","zar":16.56},{"date":"2020-10-19","zar":16.2},{"date":"2020-10-25","zar":16.22},{"date":"2020-11-03","zar":15.58},{"date":"2020-11-15","zar":15.48},{"date":"2020-11-28","zar":15.2},{"date":"2020-12-08","zar":15.1},{"date":"2020-12-14","zar":14.53},{"date":"2020-12-26","zar":14.67},{"date":"2021-01-04","zar":15.29},{"date":"2021-01-13","zar":15.18},{"date":"2021-01-22","zar":15.16},{"date":"2021-02-09","zar":14.53},{"date":"2021-02-15","zar":14.68},{"date":"2021-03-01","zar":15.35},{"date":"2021-03-13","zar":14.7},{"date":"2021-03-19","zar":14.97},{"date":"2021-03-29","zar":14.64},{"date":"2021-04-03","zar":14.62},{"date":"2021-04-15","zar":14.23},{"date":"2021-04-25","zar":14.51},{"date":"2021-05-02","zar":14.06},{"date":"2021-05-08","zar":14.13},{"date":"2021-05-24","zar":13.8},{"date":"2021-05-29","zar":13.42},{"date":"2021-06-14","zar":14.35},{"date":"2021-06-21","zar":14.01},{"date":"2021-06-27","zar":14.2},{"date":"2021-07-03","zar":14.22},{"date":"2021-07-12","zar":14.44},{"date":"2021-07-18","zar":14.84},{"date":"2021-07-23","zar":14.58},{"date":"2021-08-09","zar":14.72},{"date":"2021-08-16","zar":15.3},{"date":"2021-08-28","zar":14.27},{"date":"2021-09-08","zar":14.19},{"date":"2021-09-16","zar":14.84},{"date":"2021-09-22","zar":14.94},{"date":"2021-09-27","zar":14.89},{"date":"2021-10-04","zar":14.91},{"date":"2021-10-12","zar":14.58},{"date":"2021-10-22","zar":15.25},{"date":"2021-11-02","zar":15.03},{"date":"2021-11-09","zar":15.27},{"date":"2021-11-20","zar":16.27},{"date":"2021-12-02","zar":16.08},{"date":"2021-12-12","zar":15.89},{"date":"2021-12-18","zar":15.56},{"date":"2021-12-26","zar":15.94},{"date":"2022-01-17","zar":15.1},{"date":"2022-01-22","zar":15.34},{"date":"2022-01-28","zar":15.34824}],
"levels":[{"level":19.28475,"label":"19.28475"},{"level":19.11317,"label":"19.11317"},{"level":16.80007,"label":"16.80007"},{"level":11.56208,"label":"11.56208"},{"level":8.68807,"label":"8.68807"},{"level":6.55902,"label":"6.55902"},{"level":6.30165,"label":"6.30165"}],
"turns":[{"date":"2011-05-02","label":"02 May '11"},{"date":"2016-01-04","label":"04 Jan '16"},{"date":"2020-04-20","label":"20 Apr '20"}],
"circles":[{"date":"2011-04-20","level":363.75},{"date":"2011-04-26","level":121.4},{"date":"2016-01-08","level":317.5},{"date":"2016-01-08","level":164.9},{"date":"2020-04-24","level":360.6},{"date":"2020-04-24","level":120.6}],
"zones":[{"start":"2022-06-27","end":"2024-02-05","low":16.59,"high":17.04},{"start":"2022-07-03","end":"2024-02-08","low":11.34,"high":11.8}],
"zoneText":[{"date":"2023-05-04","level":17.27,"label":"CRB Target Zone"},{"date":"2023-05-19","level":11.14,"label":"ZAR Target Zone"}],
"toolbar":[{"date":"2008-09-29","label":"1D"},{"date":"2009-01-01","label":"5D"},{"date":"2009-04-07","label":"1M"},{"date":"2009-07-13","label":"3M"},{"date":"2009-10-17","label":"6M"},{"date":"2010-02-03","label":"YTD"},{"date":"2010-05-20","label":"1Y"},{"date":"2010-08-18","label":"5Y"},{"date":"2010-11-19","label":"All"},{"date":"2023-01-18","label":"11:45:45 (UTC)"},{"date":"2023-10-16","label":"%"},{"date":"2024-01-19","label":"log"},{"date":"2024-05-11","label":"auto"}]
},
"layer":[
{"layer":[
{"data":{"values":[{}]},"mark":{"type":"rect","fill":"#ffffff"},"encoding":{"x":{"datum":{"year":2008,"month":6,"date":1},"type":"temporal"},"x2":{"datum":{"year":2025,"month":1,"date":1}},"y":{"datum":89.8,"type":"quantitative"},"y2":{"datum":79.26}}},
{"data":{"values":[{}]},"mark":{"type":"rect","fill":"#444444"},"encoding":{"x":{"datum":{"year":2008,"month":6,"date":1},"type":"temporal"},"x2":{"datum":{"year":2025,"month":1,"date":1}},"y":{"datum":79.26,"type":"quantitative"},"y2":{"datum":78}}},
{"data":{"values":[{}]},"mark":{"type":"rect","fill":"transparent","stroke":"#2962ff","strokeWidth":3},"encoding":{"x":{"datum":{"year":2008,"month":7,"date":20},"type":"temporal"},"x2":{"datum":{"year":2024,"month":11,"date":19}},"y":{"datum":384.9,"type":"quantitative"},"y2":{"datum":90.05}}},
{"data":{"name":"circles"},"mark":{"type":"point","shape":"M-1,0 A1,.865 0 1,1 1,0 A1,.865 0 1,1 -1,0 Z","size":5476,"filled":true,"fill":"#262626","stroke":"#e263d8","strokeWidth":2,"opacity":1},"encoding":{"x":{"field":"date","type":"temporal"},"y":{"field":"level","type":"quantitative"}}},
{"data":{"name":"turns"},"mark":{"type":"rule","color":"#f7ff1f","strokeWidth":1,"strokeDash":[6,5]},"encoding":{"x":{"field":"date","type":"temporal"},"y":{"datum":384.48,"type":"quantitative"},"y2":{"datum":99.4}}},
{"data":{"name":"crb"},"mark":{"type":"line","color":"#0ee60e","strokeWidth":2},"encoding":{"x":{"field":"date","type":"temporal","title":null,"scale":{"domain":[{"year":2009,"month":1,"date":29},{"year":2024,"month":5,"date":9}],"nice":false},"axis":{"orient":"bottom","title":null,"format":"%Y","tickCount":{"interval":"year","step":1},"ticks":false,"grid":false,"labelPadding":7,"labelOverlap":false,"labelFlush":false,"labelColor":"#505050","labelFontSize":11,"labelFont":"Lato","domainColor":"#555555"}},"y":{"field":"crb","type":"quantitative","title":null,"scale":{"domain":[97.9,384.7],"nice":false,"zero":false},"axis":{"orient":"left","title":null,"values":[100,110,120,130,140,150,160,170,180,190,200,210,220,230,240,250,260,270,280,290,300,310,320,330,340,350,360,370,380],"tickCount":40,"format":".4f","ticks":false,"grid":false,"labelPadding":9,"labelOverlap":false,"labelFlush":false,"labelColor":"#4a4a4a","labelFontSize":11,"labelFont":"Lato","domainColor":"#555555"}}}},
{"data":{"values":[{"level":245.5931,"label":"245.5931"}]},"mark":{"type":"tick","orient":"horizontal","size":59,"thickness":17,"color":"#12e612","opacity":1,"cornerRadius":2},"encoding":{"x":{"datum":{"year":2008,"month":10,"date":28},"type":"temporal"},"y":{"field":"level","type":"quantitative"}}},
{"data":{"values":[{"level":245.5931,"label":"245.5931"}]},"mark":{"type":"text","color":"#131722","fontSize":11,"align":"center","baseline":"middle"},"encoding":{"x":{"datum":{"year":2008,"month":10,"date":28},"type":"temporal"},"y":{"field":"level","type":"quantitative"},"text":{"field":"label"}}},
{"data":{"name":"turns"},"mark":{"type":"tick","orient":"horizontal","size":64,"thickness":23,"color":"#f7ff1f","opacity":1,"cornerRadius":2},"encoding":{"x":{"field":"date","type":"temporal"},"y":{"datum":94.64,"type":"quantitative"}}},
{"data":{"name":"turns"},"mark":{"type":"text","color":"#131722","fontSize":11,"align":"center","baseline":"middle"},"encoding":{"x":{"field":"date","type":"temporal"},"y":{"datum":94.2,"type":"quantitative"},"text":{"field":"label"}}},
{"data":{"values":[{"date":"2009-03-01","level":380.2,"label":"U.S. Dollar / South African Rand · 1W · FOREX.com · TradingView"}]},"mark":{"type":"text","color":"#4a4a4a","fontSize":16,"align":"left","baseline":"middle"},"encoding":{"x":{"field":"date","type":"temporal"},"y":{"field":"level","type":"quantitative"},"text":{"field":"label"}}},
{"data":{"values":[{"date":"2009-03-01","level":373.4,"label":"TRJEFFCRB, TVC"}]},"mark":{"type":"text","color":"#4a4a4a","fontSize":12.6,"align":"left","baseline":"middle"},"encoding":{"x":{"field":"date","type":"temporal"},"y":{"field":"level","type":"quantitative"},"text":{"field":"label"}}},
{"data":{"values":[{"date":"2013-06-26","level":380.2,"label":"15.34824 +0.24212 (+1.60%)"}]},"mark":{"type":"text","color":"#ffffff","fontSize":12.6,"fontWeight":"bold","align":"left","baseline":"middle"},"encoding":{"x":{"field":"date","type":"temporal"},"y":{"field":"level","type":"quantitative"},"text":{"field":"label"}}},
{"data":{"values":[{"date":"2010-01-18","level":373.4,"label":"245.5931 −2.8854 (−1.16%)"}]},"mark":{"type":"text","color":"#12e612","fontSize":12.6,"align":"left","baseline":"middle"},"encoding":{"x":{"field":"date","type":"temporal"},"y":{"field":"level","type":"quantitative"},"text":{"field":"label"}}},
{"data":{"values":[{"date":"2013-04-04","level":380.2}]},"mark":{"type":"point","shape":"circle","size":230,"filled":true,"color":"#05332d","opacity":1},"encoding":{"x":{"field":"date","type":"temporal"},"y":{"field":"level","type":"quantitative"}}},
{"data":{"values":[{"date":"2013-04-04","level":380.2}]},"mark":{"type":"point","shape":"circle","size":50,"filled":true,"color":"#089981","opacity":1},"encoding":{"x":{"field":"date","type":"temporal"},"y":{"field":"level","type":"quantitative"}}},
{"data":{"values":[{}]},"mark":{"type":"rect","fill":"#000000","stroke":"#363a45","cornerRadius":4},"encoding":{"x":{"datum":{"year":2008,"month":9,"date":12},"type":"temporal"},"x2":{"datum":{"year":2008,"month":12,"date":22}},"y":{"datum":383.6,"type":"quantitative"},"y2":{"datum":378}}},
{"data":{"values":[{"date":"2008-11-02","level":380.7,"label":"USD ⌄"}]},"mark":{"type":"text","color":"#4a4a4a","fontSize":12,"align":"center","baseline":"middle"},"encoding":{"x":{"field":"date","type":"temporal"},"y":{"field":"level","type":"quantitative"},"text":{"field":"label"}}},
{"data":{"values":[{}]},"mark":{"type":"rect","fill":"#000000","stroke":"#363a45","cornerRadius":4},"encoding":{"x":{"datum":{"year":2024,"month":6,"date":25},"type":"temporal"},"x2":{"datum":{"year":2024,"month":10,"date":12}},"y":{"datum":383.6,"type":"quantitative"},"y2":{"datum":378}}},
{"data":{"values":[{"date":"2024-08-18","level":380.7,"label":"ZAR ⌄"}]},"mark":{"type":"text","color":"#4a4a4a","fontSize":12,"align":"center","baseline":"middle"},"encoding":{"x":{"field":"date","type":"temporal"},"y":{"field":"level","type":"quantitative"},"text":{"field":"label"}}},
{"data":{"values":[{"date":"2008-10-25","level":94.0},{"date":"2024-08-14","level":94.0}]},"mark":{"type":"point","shape":"circle","size":290,"filled":true,"color":"#1e222d","opacity":1},"encoding":{"x":{"field":"date","type":"temporal"},"y":{"field":"level","type":"quantitative"}}},
{"data":{"values":[{"date":"2008-10-25","level":94.0,"label":"Z"},{"date":"2024-08-14","level":94.0,"label":"A"}]},"mark":{"type":"text","color":"#6a6d78","fontSize":11,"align":"center","baseline":"middle"},"encoding":{"x":{"field":"date","type":"temporal"},"y":{"field":"level","type":"quantitative"},"text":{"field":"label"}}},
{"data":{"name":"toolbar"},"mark":{"type":"text","color":"#131722","fontSize":13.5,"align":"center","baseline":"middle"},"encoding":{"x":{"field":"date","type":"temporal"},"y":{"datum":84.3,"type":"quantitative"},"text":{"field":"label"}}},
{"data":{"values":[{"date":"2011-02-05"},{"date":"2023-08-03"}]},"mark":{"type":"rule","color":"#e0e3eb","strokeWidth":1},"encoding":{"x":{"field":"date","type":"temporal"},"y":{"datum":87.1,"type":"quantitative"},"y2":{"datum":81}}},
{"data":{"values":[{"date":"2011-04-26","level":84.3}]},"mark":{"type":"point","shape":"M-.8,-.7 H.9 V1 H-.2 M-.8,-.7 V.2 M-.8,-.3 H.9 M-.4,-1 V-.5 M.5,-1 V-.5 M-1,.5 H.2 M-.2,.1 L.2,.5 L-.2,.9","size":324,"filled":false,"stroke":"#131722","strokeWidth":1,"opacity":1},"encoding":{"x":{"field":"date","type":"temporal"},"y":{"field":"level","type":"quantitative"}}},
{"data":{"values":[{"date":"2024-09-07","level":84.3}]},"mark":{"type":"point","shape":"M-1,-.5 V-1 H-.5 M.5,-1 H1 V-.5 M1,.5 V1 H.5 M-.5,1 H-1 V.5","size":289,"filled":false,"stroke":"#2962ff","strokeWidth":1.5,"opacity":1},"encoding":{"x":{"field":"date","type":"temporal"},"y":{"field":"level","type":"quantitative"}}}
]},
{"layer":[
{"data":{"name":"levels"},"mark":{"type":"rule","color":"#f7ff1f","strokeWidth":1,"strokeDash":[6,5]},"encoding":{"x":{"datum":{"year":2009,"month":2,"date":2},"type":"temporal"},"x2":{"datum":{"year":2024,"month":4,"date":26}},"y":{"field":"level","type":"quantitative"}}},
{"data":{"values":[{"date":"2022-01-28","level":15.34824}]},"mark":{"type":"point","shape":"circle","size":616,"filled":true,"color":"#101010","opacity":1},"encoding":{"x":{"field":"date","type":"temporal"},"y":{"field":"level","type":"quantitative"}}},
{"data":{"name":"zar"},"mark":{"type":"line","color":"#ffffff","strokeWidth":2},"encoding":{"x":{"field":"date","type":"temporal"},"y":{"field":"zar","type":"quantitative","title":null,"scale":{"domain":[5.591,20.028],"nice":false,"zero":false},"axis":{"orient":"right","title":null,"values":[6,6.5,7,7.5,8,8.5,9,9.5,10,10.5,11,11.5,12,12.5,13,13.5,14,14.5,15,15.5,16,16.5,17,17.5,18,18.5,19,19.5,20],"tickCount":40,"format":".5f","ticks":false,"grid":false,"labelPadding":10,"labelOverlap":false,"labelFlush":false,"labelColor":"#4a4a4a","labelFontSize":11,"labelFont":"Lato","domainColor":"#555555"}}}},
{"data":{"values":[{"date":"2022-01-28","level":15.34824}]},"mark":{"type":"point","shape":"circle","size":40,"filled":true,"color":"#ffffff","opacity":1},"encoding":{"x":{"field":"date","type":"temporal"},"y":{"field":"level","type":"quantitative"}}},
{"data":{"name":"zones"},"mark":{"type":"rect","fill":"transparent","stroke":"#f7ff1f","strokeWidth":2},"encoding":{"x":{"field":"start","type":"temporal"},"x2":{"field":"end"},"y":{"field":"low","type":"quantitative"},"y2":{"field":"high"}}},
{"data":{"name":"zoneText"},"mark":{"type":"text","color":"#ffffff","fontSize":16.6,"fontWeight":"bold","align":"center","baseline":"middle"},"encoding":{"x":{"field":"date","type":"temporal"},"y":{"field":"level","type":"quantitative"},"text":{"field":"label"}}},
{"data":{"values":[{"date":"2023-05-10","level":19.56,"label":"CJS Securities"}]},"mark":{"type":"text","color":"#ffffff","fontSize":22.5,"fontWeight":"bold","fontStyle":"italic","align":"center","baseline":"middle"},"encoding":{"x":{"field":"date","type":"temporal"},"y":{"field":"level","type":"quantitative"},"text":{"field":"label"}}},
{"data":{"values":[{"date":"2016-09-19","level":19.07}]},"mark":{"type":"point","shape":"circle","size":1810,"filled":true,"color":"#2a2e39","opacity":1},"encoding":{"x":{"field":"date","type":"temporal"},"y":{"field":"level","type":"quantitative"}}},
{"data":{"values":[{"date":"2016-09-19","level":19.07,"label":"✕"}]},"mark":{"type":"text","color":"#ffffff","font":"DejaVu Sans","fontSize":18,"align":"center","baseline":"middle"},"encoding":{"x":{"field":"date","type":"temporal"},"y":{"field":"level","type":"quantitative"},"text":{"field":"label"}}},
{"data":{"name":"levels"},"mark":{"type":"tick","orient":"horizontal","size":60,"thickness":17,"color":"#f7ff1f","opacity":1,"cornerRadius":2},"encoding":{"x":{"datum":{"year":2024,"month":8,"date":10},"type":"temporal"},"y":{"field":"level","type":"quantitative"}}},
{"data":{"name":"levels"},"mark":{"type":"text","color":"#131722","fontSize":11,"align":"center","baseline":"middle"},"encoding":{"x":{"datum":{"year":2024,"month":8,"date":10},"type":"temporal"},"y":{"field":"level","type":"quantitative"},"text":{"field":"label"}}},
{"data":{"values":[{"level":15.243}]},"mark":{"type":"tick","orient":"horizontal","size":60,"thickness":30,"color":"#ffffff","opacity":1,"cornerRadius":2},"encoding":{"x":{"datum":{"year":2024,"month":8,"date":10},"type":"temporal"},"y":{"field":"level","type":"quantitative"}}},
{"data":{"values":[{"level":15.33,"label":"15.34824"},{"level":15.13,"label":"5d 11h"}]},"mark":{"type":"text","color":"#131722","fontSize":11,"align":"left","baseline":"middle"},"encoding":{"x":{"datum":{"year":2024,"month":6,"date":9},"type":"temporal"},"y":{"field":"level","type":"quantitative"},"text":{"field":"label"}}}
]}
],
"resolve":{"scale":{"y":"independent"},"axis":{"y":"independent"}}}
